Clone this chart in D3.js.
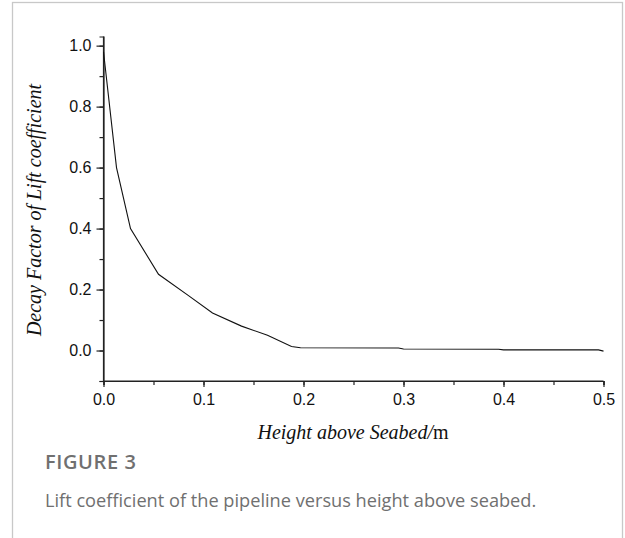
<!DOCTYPE html>
<html>
<head>
<meta charset="utf-8">
<script src="https://cdn.jsdelivr.net/npm/d3@7"></script>
<style>
  body { margin: 0; background: #fff; }
  .tick text { font-family: "Liberation Sans", Arial, sans-serif; font-size: 16px; fill: #111; }
  .axis-title { font-family: "Liberation Serif", "Times New Roman", serif; font-size: 20px; font-style: italic; fill: #111; }
  .caption { font-family: "Open Sans", sans-serif; fill: #707070; }
</style>
</head>
<body>
<svg id="chart"></svg>
<script>
// values
var heights = [0, 0.013, 0.027, 0.055, 0.085, 0.109, 0.138, 0.164, 0.188, 0.197, 0.295, 0.3, 0.395, 0.4, 0.495, 0.5];
var decay   = [0.98, 0.60, 0.40, 0.25, 0.18, 0.123, 0.08, 0.05, 0.013, 0.009, 0.008, 0.005, 0.004, 0.002, 0.002, -0.002];
var xTicks = [0, 0.1, 0.2, 0.3, 0.4, 0.5];
var yTicks = [0, 0.2, 0.4, 0.6, 0.8, 1.0];

var screen = {width: 625, height: 538};
var margins = {left: 103.5, top: 36.5};
var graph = {width: 500, height: 344.5};

var svg = d3.select("#chart")
    .attr("width", screen.width)
    .attr("height", screen.height);

// figure frame
svg.append("rect")
    .attr("x", 12.5).attr("y", 2.5)
    .attr("width", 610).attr("height", 560)
    .attr("fill", "none")
    .attr("stroke", "#c8c8c8")
    .attr("stroke-width", 1.3);

var xScale = d3.scaleLinear().domain([0, 0.5]).range([0, graph.width]);
var yScale = d3.scaleLinear().domain([-0.1, 1.03]).range([graph.height, 0]);

var target = svg.append("g")
    .attr("transform", "translate(" + margins.left + "," + margins.top + ")");

// minor ticks
var xAxisMinor = d3.axisBottom(xScale).tickValues(d3.range(0, 0.51, 0.05)).tickSize(4).tickFormat("");
var yAxisMinor = d3.axisLeft(yScale).tickValues(d3.range(-0.1, 1.01, 0.1)).tickSize(4).tickFormat("");

var xAxis = d3.axisBottom(xScale).tickValues(xTicks).tickSize(6).tickPadding(7).tickFormat(d3.format(".1f"));
var yAxis = d3.axisLeft(yScale).tickValues(yTicks).tickSize(7).tickPadding(5).tickFormat(d3.format(".1f"));

target.append("g")
    .attr("transform", "translate(0," + graph.height + ")")
    .call(xAxisMinor);
var gx = target.append("g")
    .attr("transform", "translate(0," + graph.height + ")")
    .call(xAxis);
target.append("g").call(yAxisMinor);
var gy = target.append("g").call(yAxis);

target.selectAll(".domain, .tick line")
    .attr("stroke", "#222")
    .attr("stroke-width", 1.2);
gx.select(".domain").attr("d", "M0,0H" + graph.width);
gy.select(".domain").attr("d", "M0," + graph.height + "V0");

var line = d3.line()
    .x(function (d) { return xScale(d[0]); })
    .y(function (d) { return yScale(d[1]); });

target.append("path")
    .datum(d3.zip(heights, decay))
    .attr("d", line)
    .attr("fill", "none")
    .attr("stroke", "#111")
    .attr("stroke-width", 1.1);

// axis titles
var xt = svg.append("text")
    .classed("axis-title", true)
    .attr("text-anchor", "middle")
    .attr("x", 353)
    .attr("y", 439);
xt.append("tspan").text("Height above Seabed/");
xt.append("tspan").style("font-style", "normal").text("m");

svg.append("g")
    .attr("transform", "translate(41,210)")
    .append("text")
    .classed("axis-title", true)
    .attr("text-anchor", "middle")
    .attr("transform", "rotate(270)")
    .text("Decay Factor of Lift coefficient");

// caption
svg.append("text")
    .classed("caption", true)
    .attr("x", 45).attr("y", 469)
    .style("font-size", "20px")
    .style("font-weight", 600)
    .style("letter-spacing", "0.6px")
    .text("FIGURE 3");

svg.append("text")
    .classed("caption", true)
    .attr("x", 45).attr("y", 507)
    .style("font-size", "18.2px")
    .text("Lift coefficient of the pipeline versus height above seabed.");
</script>
</body>
</html>
